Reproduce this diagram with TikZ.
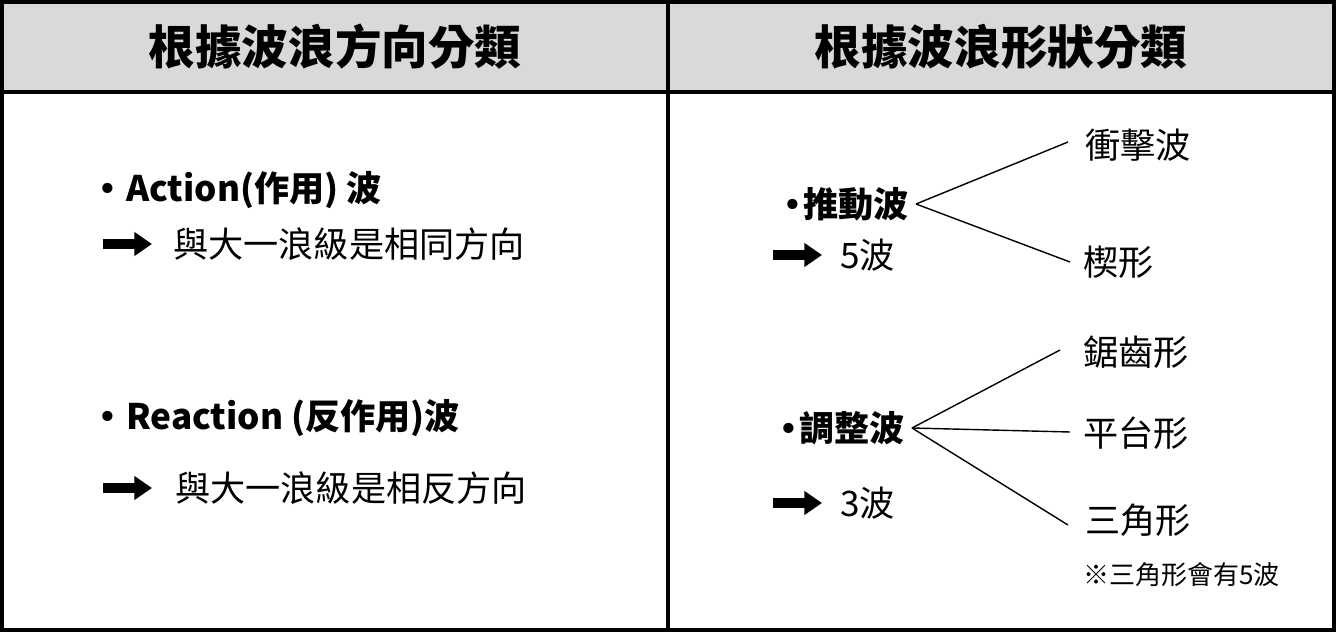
\documentclass[tikz,border=0pt]{standalone}
\usepackage{fontspec}
\setmainfont{Noto Sans CJK TC}
\newfontfamily\bulletfont{DejaVu Sans}
\newcommand{\dotmark}{{\bulletfont\mdseries •}}
\usetikzlibrary{arrows.meta}
\tikzset{
  head/.style={font=\fontsize{26.5}{30}\selectfont\bfseries},
  body/.style={font=\fontsize{20}{23}\selectfont, anchor=west, inner sep=0pt},
  bodyb/.style={body, font=\fontsize{20}{23}\selectfont\bfseries},
  branch/.style={font=\fontsize{20}{23}\selectfont, anchor=west, inner sep=0pt},
  fatarrow/.style={line width=5.5pt, -{Triangle[length=10pt,width=13pt]}},
  twig/.style={line width=0.8pt}
}
\begin{document}
\begin{tikzpicture}[x=0.02cm,y=-0.02cm]
\useasboundingbox (0,0) rectangle (1336,632);
\fill[black!15] (2,2) rectangle (1334,92);
\draw[line width=2pt] (2,2) rectangle (1334,630);
\draw[line width=2pt] (2,92) -- (1334,92);
\draw[line width=2pt] (668,2) -- (668,630);

% headers
\node[head] (hleft) at (335,47) {根據波浪方向分類};
\node[head] (hright) at (1001,47) {根據波浪形狀分類};

% left column
\node[bodyb] (act) at (97,190) {\dotmark\ Action(作用) 波};
\coordinate (a1s) at (103,244); \coordinate (a1e) at (152,244);
\draw[fatarrow] (a1s) -- (a1e);
\node[body] (acttxt) at (173,244) {與大一浪級是相同方向};

\node[bodyb] (react) at (97,418) {\dotmark\ Reaction (反作用)波};
\coordinate (a2s) at (103,488); \coordinate (a2e) at (152,488);
\draw[fatarrow] (a2s) -- (a2e);
\node[body] (reacttxt) at (175,488) {與大一浪級是相反方向};

% right column
\node[bodyb] (push) at (782,204) {\dotmark 推動波};
\coordinate (a3s) at (773,255); \coordinate (a3e) at (822,255);
\draw[fatarrow] (a3s) -- (a3e);
\node[body] (push5) at (840,255) {5波};
\node[branch] (impulse) at (1085,145) {衝擊波};
\node[branch] (wedge) at (1083,262) {楔形};
\coordinate (pj) at (916,204);
\draw[twig] (pj) -- (1068,142);
\draw[twig] (pj) -- (1070,262);

\node[bodyb] (corr) at (778,428) {\dotmark 調整波};
\coordinate (a4s) at (773,503); \coordinate (a4e) at (822,503);
\draw[fatarrow] (a4s) -- (a4e);
\node[body] (corr3) at (840,503) {3波};
\node[branch] (zigzag) at (1083,352) {鋸齒形};
\node[branch] (flat) at (1083,433) {平台形};
\node[branch] (tri) at (1085,520) {三角形};
\node[branch, font=\fontsize{14.8}{17}\selectfont] (note) at (1083,575) {※三角形會有5波};
\coordinate (cj) at (912,428);
\draw[twig] (cj) -- (1060,350);
\draw[twig] (cj) -- (1070,432);
\draw[twig] (cj) -- (1068,525);
\end{tikzpicture}
\end{document}
